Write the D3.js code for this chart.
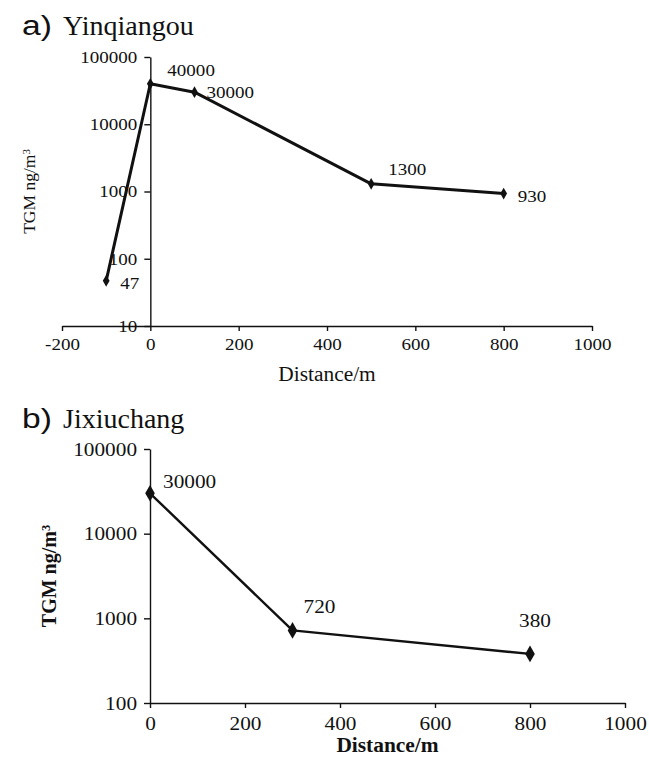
<!DOCTYPE html>
<html>
<head>
<meta charset="utf-8">
<script src="https://cdn.jsdelivr.net/npm/d3@7"></script>
<style>
body{margin:0;background:#fff}
svg{display:block}
text{fill:#111}
</style>
</head>
<body>
<div id="chart"></div>
<script>
// a) Yinqiangou
var distA = [-100, 0, 100, 500, 800];
var tgmA = [47, 40000, 30000, 1300, 930];
var xTicksA = [-200, 0, 200, 400, 600, 800, 1000];
var yTicksA = [10, 100, 1000, 10000, 100000];

// b) Jixiuchang
var distB = [0, 300, 800];
var tgmB = [30000, 720, 380];
var xTicksB = [0, 200, 400, 600, 800, 1000];
var yTicksB = [100, 1000, 10000, 100000];

// nudges for the value labels, px from the point
var nudgeA = [[14,8],[17,-8],[12,6],[17,-9],[14,8]];
var nudgeB = [[13,-5],[11,-17],[-11,-27]];

var W = 649, H = 761;
var serif = "'Liberation Serif','Times New Roman',serif";
var sans = "'Liberation Sans',Arial,sans-serif";
// plain hyphen for negatives, like the original
var fmt = function(d){ return String(d); };

var svg = d3.select("#chart").append("svg")
	.attr("width", W)
	.attr("height", H)
	.style("background", "#fff");

// the scanned figure is a bit wider than tall, so the text is stretched
function stretch(sel, sx){
	sel.each(function(){
		var t = d3.select(this);
		var x = +t.attr("x") || 0;
		t.attr("x", x / sx).attr("transform", "scale(" + sx + ",1)");
	});
}

function drawPanel(p){
	var g = svg.append("g");
	var x = d3.scaleLinear().domain(p.xDomain).range(p.xRange);
	var y = d3.scaleLog().domain(p.yDomain).range(p.yRange);

	// title
	g.append("text")
		.attr("transform", "translate(22," + p.titleY + ") scale(1.2,1)")
		.style("font-family", sans)
		.style("font-size", "28px")
		.text(p.letter + ")");
	g.append("text")
		.attr("transform", "translate(63," + p.titleY + ")")
		.style("font-family", serif)
		.style("font-size", "28px")
		.text(p.name);

	var xAxis = g.append("g")
		.attr("transform", "translate(0," + p.yRange[0] + ")")
		.call(d3.axisBottom(x).tickValues(p.xTicks).tickFormat(fmt)
			.tickSize(5).tickSizeOuter(0).tickPadding(p.xPad));
	var yAxis = g.append("g")
		.attr("transform", "translate(" + x(0) + ",0)")
		.call(d3.axisLeft(y).tickValues(p.yTicks).tickFormat(fmt)
			.tickSize(6).tickSizeOuter(0).tickPadding(7));

	[xAxis, yAxis].forEach(function(a){
		a.selectAll("path,line").attr("stroke", "#111").attr("stroke-width", 1.4);
		a.selectAll("text")
			.style("font-family", serif)
			.style("font-size", p.fontSize + "px")
			.attr("fill", "#111");
		stretch(a.selectAll("text"), 1.12);
	});

	// axis titles
	g.append("text")
		.attr("transform", "translate(" + d3.mean(p.xRange) + "," + p.xLabelY + ") scale(1.07,1)")
		.attr("text-anchor", "middle")
		.style("font-family", serif)
		.style("font-weight", p.xBold ? "bold" : "normal")
		.style("font-size", p.labelSize + "px")
		.text("Distance/m");

	var yl = g.append("text")
		.attr("transform", "translate(" + p.yLabelX + "," + d3.mean(p.yRange) + ") rotate(-90)")
		.attr("text-anchor", "middle")
		.style("font-family", serif)
		.style("font-weight", p.yBold ? "bold" : "normal")
		.style("font-size", p.yLabelSize + "px");
	yl.append("tspan").text("TGM ng/m");
	yl.append("tspan").attr("dy", "-0.45em").style("font-size", "0.62em").text("3");

	// value labels
	g.selectAll(".val")
		.data(p.xs)
		.enter().append("text")
		.attr("class", "val")
		.attr("transform", function(d, i){
			return "translate(" + (x(d) + p.nudge[i][0]) + "," + (y(p.ys[i]) + p.nudge[i][1]) + ") scale(1.12,1)";
		})
		.style("font-family", serif)
		.style("font-size", p.fontSize + "px")
		.text(function(d, i){ return fmt(p.ys[i]); });

	// the line
	var line = d3.line()
		.x(function(d){ return x(d[0]); })
		.y(function(d){ return y(d[1]); });
	var pts = p.xs.map(function(d, i){ return [d, p.ys[i]]; });
	g.append("path")
		.datum(pts)
		.attr("d", line)
		.attr("fill", "none")
		.attr("stroke", "#111")
		.attr("stroke-width", p.lineWidth)
		.attr("stroke-linejoin", "round");

	g.selectAll(".mk")
		.data(pts)
		.enter().append("path")
		.attr("class", "mk")
		.attr("transform", function(d){ return "translate(" + x(d[0]) + "," + y(d[1]) + ")"; })
		.attr("d", d3.symbol().type(d3.symbolDiamond).size(p.markerSize))
		.attr("fill", "#111");
}

drawPanel({
	letter: "a", name: "Yinqiangou", titleY: 35,
	xs: distA, ys: tgmA, nudge: nudgeA,
	xDomain: [-200, 1000], xRange: [62, 592],
	yDomain: [10, 100000], yRange: [326, 57],
	xTicks: xTicksA, yTicks: yTicksA, xPad: 7,
	fontSize: 17, labelSize: 20, xLabelY: 381, xBold: false,
	yLabelX: 35, yLabelSize: 17.5, yBold: false,
	lineWidth: 3, markerSize: 40
});

drawPanel({
	letter: "b", name: "Jixiuchang", titleY: 428,
	xs: distB, ys: tgmB, nudge: nudgeB,
	xDomain: [0, 1000], xRange: [150, 625],
	yDomain: [100, 100000], yRange: [703, 449],
	xTicks: xTicksB, yTicks: yTicksB, xPad: 9,
	fontSize: 19, labelSize: 20, xLabelY: 752, xBold: true,
	yLabelX: 56, yLabelSize: 20, yBold: true,
	lineWidth: 2.4, markerSize: 80
});
</script>
</body>
</html>
